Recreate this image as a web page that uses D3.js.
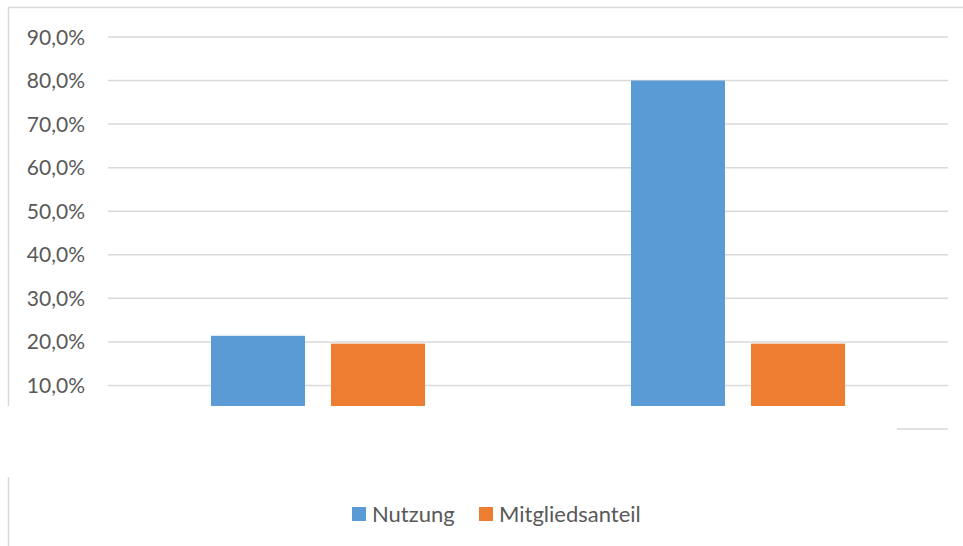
<!DOCTYPE html>
<html>
<head>
<meta charset="utf-8">
<script src="https://cdn.jsdelivr.net/npm/d3@7"></script>
<style>
  body { margin: 0; background: #fff; }
  text { font-family: Lato, "Open Sans", sans-serif; fill: #595959; }
</style>
</head>
<body>
<svg width="963" height="546"></svg>
<script>
// data
const categories = ['Gruppe 1', 'Gruppe 2'];
const seriesNames = ['Nutzung', 'Mitgliedsanteil'];
const nutzung = [0.214, 0.80];
const mitgliedsanteil = [0.196, 0.196];
const yTicks = [0, 0.1, 0.2, 0.3, 0.4, 0.5, 0.6, 0.7, 0.8, 0.9];
const colors = ['#5B9BD5', '#ED7D31'];

const svg = d3.select('svg');
const width = +svg.attr('width');
const height = +svg.attr('height');
const margin = {top: 37, right: 15, bottom: 117, left: 108};
const innerWidth = width - margin.left - margin.right;
const innerHeight = height - margin.top - margin.bottom;

const de = d3.formatLocale({decimal: ',', thousands: '.', grouping: [3], currency: ['', '€']});
const pct = de.format('.1%');

// chart area border (only top + left show in the picture)
svg.append('line')
  .attr('x1', 8.5).attr('x2', width).attr('y1', 7.5).attr('y2', 7.5)
  .attr('stroke', '#d9d9d9').attr('stroke-width', 1.5);
svg.append('line')
  .attr('x1', 8.5).attr('x2', 8.5).attr('y1', 7.5).attr('y2', height)
  .attr('stroke', '#d9d9d9').attr('stroke-width', 1.5);

const g = svg.append('g')
  .attr('transform', `translate(${margin.left}, ${margin.top})`);

const yScale = d3.scaleLinear()
  .domain([0, 0.9])
  .range([innerHeight, 0]);

const x0 = d3.scaleBand()
  .domain(categories)
  .range([0, innerWidth]);

const x1 = d3.scaleBand()
  .domain(seriesNames)
  .range([0, x0.bandwidth()])
  .paddingInner(0.217)
  .paddingOuter(0.858);

// gridlines
g.append('g').selectAll('line')
  .data(yTicks)
  .enter()
  .append('line')
    .attr('x1', 0)
    .attr('x2', innerWidth)
    .attr('y1', d => yScale(d))
    .attr('y2', d => yScale(d))
    .attr('stroke', '#d9d9d9')
    .attr('stroke-width', 1.5);

// y labels (the 0 label sits in the blanked band, so skip it)
g.append('g').selectAll('text')
  .data(yTicks.filter(d => d > 0))
  .enter()
  .append('text')
    .attr('x', -23)
    .attr('y', d => yScale(d))
    .attr('dy', '0.36em')
    .attr('text-anchor', 'end')
    .style('font-size', '21px')
    .text(d => pct(d));

// bars
const rows = categories.map((c, i) => ({cat: c, values: [nutzung[i], mitgliedsanteil[i]]}));
const groups = g.selectAll('.grp')
  .data(rows)
  .enter()
  .append('g')
    .attr('class', 'grp')
    .attr('transform', d => `translate(${x0(d.cat)}, 0)`);

groups.selectAll('rect')
  .data(d => d.values.map((v, j) => ({s: seriesNames[j], v: v, j: j})))
  .enter()
  .append('rect')
    .attr('x', d => x1(d.s))
    .attr('y', d => yScale(d.v))
    .attr('width', x1.bandwidth())
    .attr('height', d => innerHeight - yScale(d.v))
    .attr('fill', d => colors[d.j]);

// the picture has the lower band of the chart blanked out
svg.append('rect')
  .attr('x', 0).attr('y', 406)
  .attr('width', 897).attr('height', 71)
  .attr('fill', '#fff');

// legend
const legend = svg.append('g')
  .attr('transform', 'translate(352, 507)');
const legendX = [0, 127];
const item = legend.selectAll('g')
  .data(seriesNames)
  .enter()
  .append('g')
    .attr('transform', (d, i) => `translate(${legendX[i]}, 0)`);
item.append('rect')
  .attr('width', 14).attr('height', 14)
  .attr('fill', (d, i) => colors[i]);
item.append('text')
  .attr('x', 20)
  .attr('y', 15)
  .style('font-size', '22px')
  .text(d => d);
</script>
</body>
</html>
